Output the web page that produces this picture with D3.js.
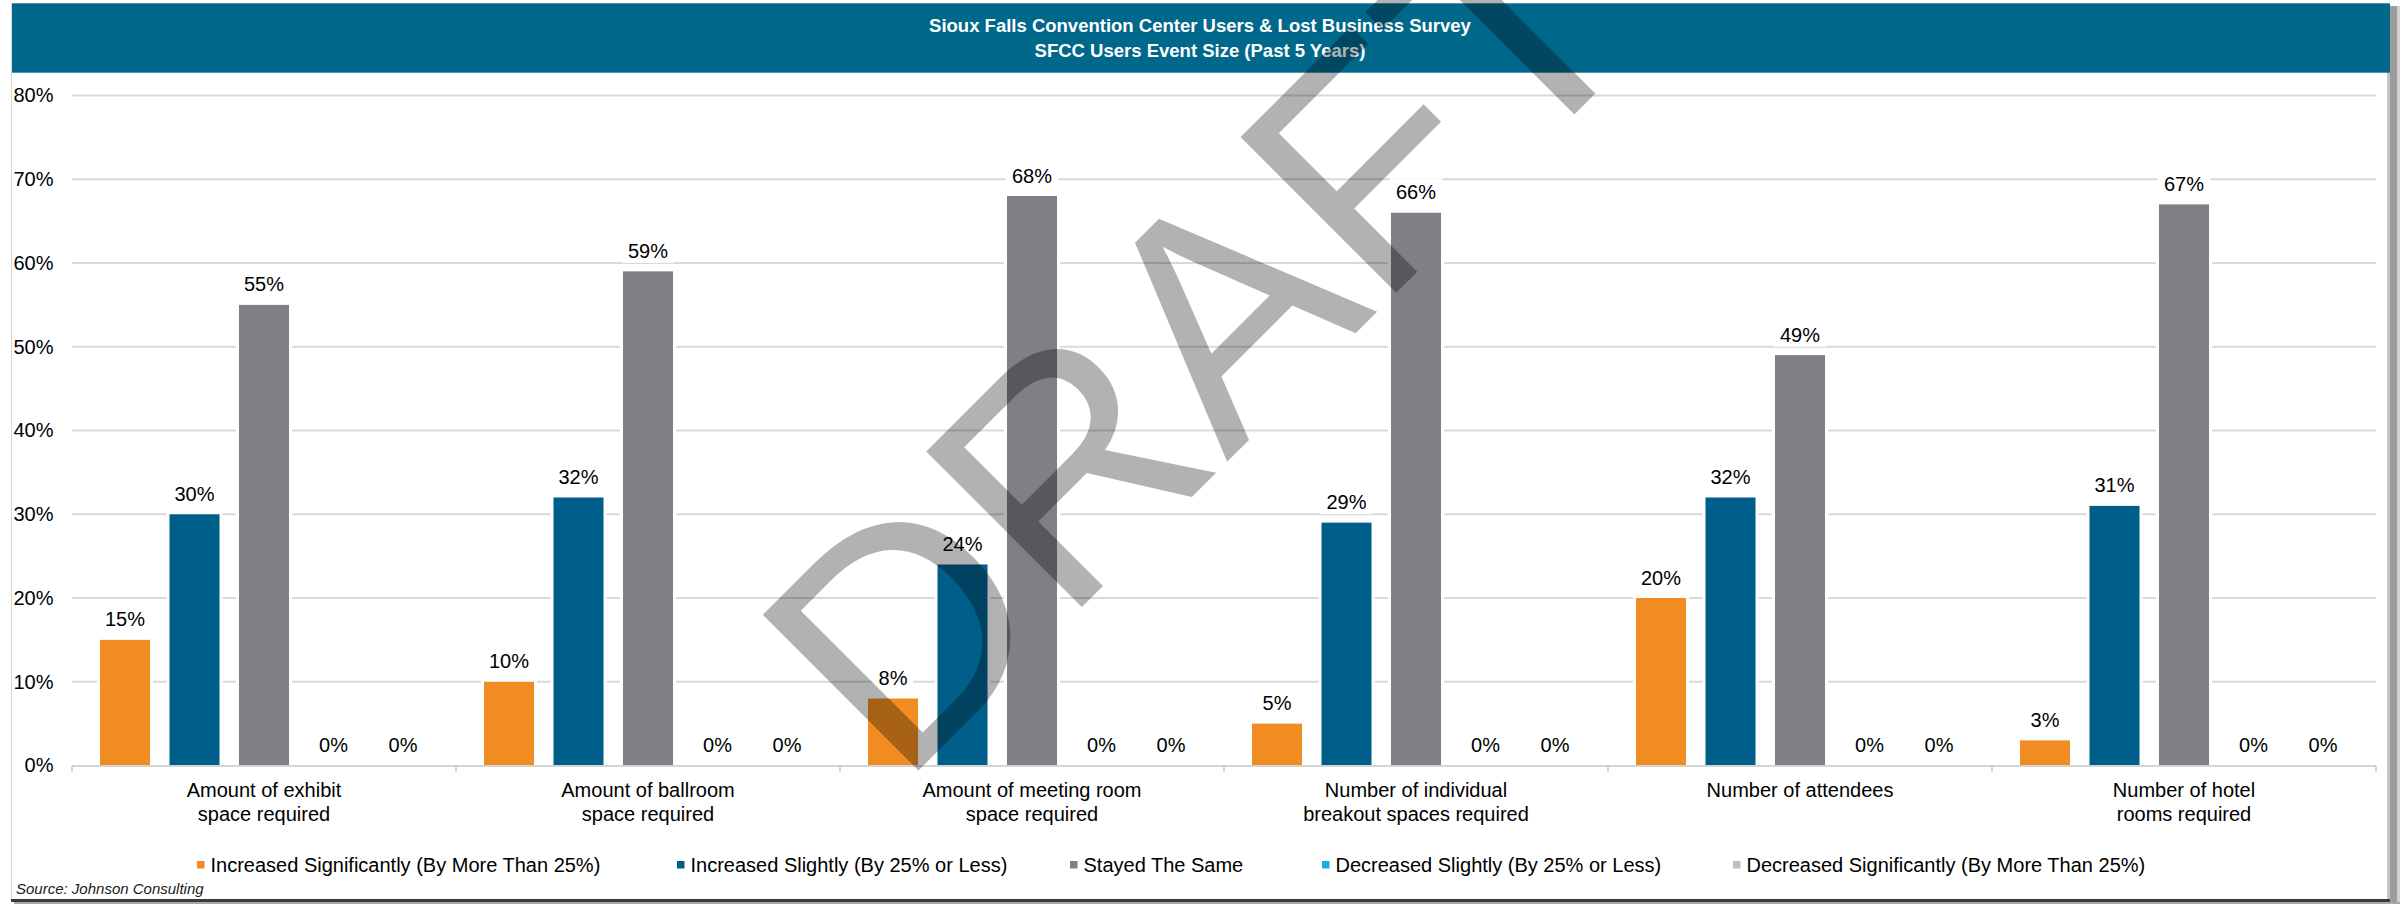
<!DOCTYPE html>
<html>
<head>
<meta charset="utf-8">
<script src="https://cdn.jsdelivr.net/npm/d3@7"></script>
<style>
  body { margin: 0; background: #fff; }
  svg { display: block; }
  text { font-family: "Liberation Sans", Arial, Helvetica, sans-serif; }
</style>
</head>
<body>
<svg id="chart" width="2400" height="904"></svg>
<script>
// ---- Data ----
const titleLines = [
  "Sioux Falls Convention Center Users & Lost Business Survey",
  "SFCC Users Event Size (Past 5 Years)"
];
const categories = [
  ["Amount of exhibit", "space required"],
  ["Amount of ballroom", "space required"],
  ["Amount of meeting room", "space required"],
  ["Number of individual", "breakout spaces required"],
  ["Number of attendees"],
  ["Number of hotel", "rooms required"]
];
const seriesNames = [
  "Increased Significantly (By More Than 25%)",
  "Increased Slightly (By 25% or Less)",
  "Stayed The Same",
  "Decreased Slightly (By 25% or Less)",
  "Decreased Significantly (By More Than 25%)"
];
const increasedSignificantly = [0.15, 0.10, 0.08, 0.05, 0.20, 0.03];
const increasedSlightly      = [0.30, 0.32, 0.24, 0.29, 0.32, 0.31];
const stayedTheSame          = [0.55, 0.59, 0.68, 0.66, 0.49, 0.67];
const decreasedSlightly      = [0, 0, 0, 0, 0, 0];
const decreasedSignificantly = [0, 0, 0, 0, 0, 0];
const yTicks = [0, 0.1, 0.2, 0.3, 0.4, 0.5, 0.6, 0.7, 0.8];
const sourceNote = "Source: Johnson Consulting";
const watermarkText = "DRAFT";

const seriesValues = [increasedSignificantly, increasedSlightly, stayedTheSame,
                      decreasedSlightly, decreasedSignificantly];
const seriesColors = ["#f08c21", "#005f8a", "#7f7f84", "#1cade4", "#bfbfbf"];

// ---- Layout ----
const W = 2400, H = 904;
const plot = { left: 72, right: 2376, top: 95.5, bottom: 765.5 };
const legendItemX = [197, 677, 1070, 1322, 1733];
const fmt = d3.format(".0%");

const svg = d3.select("#chart");

// page frame and drop shadow
svg.append("rect").attr("x", 0).attr("y", 0).attr("width", W).attr("height", H).attr("fill", "#fff");
svg.append("rect").attr("x", 2387).attr("y", 6).attr("width", 3).attr("height", 896).attr("fill", "#c4c4c4");
svg.append("rect").attr("x", 2390).attr("y", 6).attr("width", 7).attr("height", 898).attr("fill", "#9c9c9c");
svg.append("rect").attr("x", 2397).attr("y", 6).attr("width", 3).attr("height", 898).attr("fill", "#d2d2d2");
svg.append("rect").attr("x", 11).attr("y", 899).attr("width", 2379).attr("height", 3).attr("fill", "#3a3a3a");
svg.append("rect").attr("x", 14).attr("y", 902).attr("width", 2386).attr("height", 2).attr("fill", "#a8a8a8");
svg.append("line").attr("x1", 11.5).attr("x2", 11.5).attr("y1", 3).attr("y2", 899)
  .attr("stroke", "#d6d6d6").attr("stroke-width", 1);

// title banner
svg.append("rect").attr("x", 12).attr("y", 3.3).attr("width", 2378).attr("height", 69.4).attr("fill", "#00688b");
svg.append("g").selectAll("text").data(titleLines).join("text")
  .attr("x", 1200).attr("y", (d, i) => 31.7 + i * 25.6)
  .attr("text-anchor", "middle").attr("fill", "#fff")
  .attr("font-weight", "bold").attr("font-size", 18.5)
  .text(d => d);

// ---- Scales ----
const x0 = d3.scaleBand().domain(d3.range(categories.length))
  .range([plot.left, plot.right]).padding(0);
const x1 = d3.scaleBand().domain(d3.range(seriesNames.length))
  .range([0, x0.bandwidth()]).paddingInner(0.28).paddingOuter(0.4025);
const y = d3.scaleLinear().domain([0, 0.8]).range([plot.bottom, plot.top]);

// gridlines
svg.append("g").selectAll("line").data(yTicks.filter(d => d > 0)).join("line")
  .attr("x1", plot.left).attr("x2", plot.right)
  .attr("y1", d => y(d)).attr("y2", d => y(d))
  .attr("stroke", "#d9d9d9").attr("stroke-width", 2);

// y axis labels
const yAxis = svg.append("g").attr("transform", `translate(${plot.left},0)`)
  .call(d3.axisLeft(y).tickValues(yTicks).tickFormat(fmt).tickSize(0).tickPadding(18.5));
yAxis.select(".domain").remove();
yAxis.selectAll("text").attr("font-size", 20).attr("fill", "#000")
  .attr("font-family", "'Liberation Sans', Arial, sans-serif");

// ---- Bars ----
const barData = [];
categories.forEach((c, i) => {
  seriesValues.forEach((vals, s) => {
    barData.push({ cat: i, series: s, value: vals[i] });
  });
});

const barsG = svg.append("g");
// white outline behind each bar
barsG.selectAll("rect.halo").data(barData.filter(d => d.value > 0)).join("rect")
  .attr("class", "halo")
  .attr("x", d => x0(d.cat) + x1(d.series) - 3)
  .attr("y", d => y(d.value) - 3)
  .attr("width", x1.bandwidth() + 6)
  .attr("height", d => y(0) - y(d.value) + 3)
  .attr("fill", "#fff");
barsG.selectAll("rect.bar").data(barData.filter(d => d.value > 0)).join("rect")
  .attr("class", "bar")
  .attr("x", d => x0(d.cat) + x1(d.series))
  .attr("y", d => y(d.value))
  .attr("width", x1.bandwidth())
  .attr("height", d => y(0) - y(d.value))
  .attr("fill", d => seriesColors[d.series]);

// x axis line with category separators
const axisG = svg.append("g");
axisG.append("line").attr("x1", plot.left).attr("x2", plot.right)
  .attr("y1", 766).attr("y2", 766).attr("stroke", "#d4d4d4").attr("stroke-width", 2);
const boundaries = x0.domain().map(d => x0(d)).concat([plot.right]);
axisG.selectAll("line.tick").data(boundaries).join("line")
  .attr("class", "tick")
  .attr("x1", d => d).attr("x2", d => d)
  .attr("y1", 766).attr("y2", 772)
  .attr("stroke", "#d4d4d4").attr("stroke-width", 2);

// category labels
const catG = svg.append("g").selectAll("text").data(categories).join("text")
  .attr("x", (d, i) => x0(i) + x0.bandwidth() / 2)
  .attr("y", 797.3)
  .attr("text-anchor", "middle").attr("font-size", 20).attr("fill", "#000");
catG.selectAll("tspan").data(d => d).join("tspan")
  .attr("x", function () { return this.parentNode.getAttribute("x"); })
  .attr("dy", (d, i) => i === 0 ? 0 : 23.4)
  .text(d => d);

// value labels with white backing
const labelG = svg.append("g");
barData.forEach(d => {
  const cx = x0(d.cat) + x1(d.series) + x1.bandwidth() / 2;
  const by = y(d.value) - 13.5;
  const g = labelG.append("g");
  const bg = g.append("rect").attr("fill", "#fff");
  const t = g.append("text")
    .attr("x", cx).attr("y", by)
    .attr("text-anchor", "middle").attr("font-size", 20).attr("fill", "#000")
    .text(fmt(d.value));
  const w = t.node().getComputedTextLength();
  bg.attr("x", cx - w / 2 - 6).attr("y", by - 21).attr("width", w + 12).attr("height", 26);
});

// ---- Legend ----
const legendG = svg.append("g");
seriesNames.forEach((name, s) => {
  const lx = legendItemX[s];
  legendG.append("rect").attr("x", lx).attr("y", 861).attr("width", 7.5).attr("height", 7.5)
    .attr("fill", seriesColors[s]);
  legendG.append("text").attr("x", lx + 13.5).attr("y", 872)
    .attr("font-size", 20).attr("fill", "#000").text(name);
});

// source note
svg.append("text").attr("x", 16).attr("y", 894)
  .attr("font-size", 15).attr("font-style", "italic").attr("fill", "#1a1a1a")
  .text(sourceNote);

// ---- Watermark ----
svg.append("g").attr("transform", "translate(1277,412) rotate(-45)")
  .append("text")
  .attr("x", 0).attr("y", 0)
  .attr("text-anchor", "middle")
  .attr("font-size", 320)
  .attr("fill", "#000").attr("fill-opacity", 0.3)
  .text(watermarkText);
</script>
</body>
</html>
